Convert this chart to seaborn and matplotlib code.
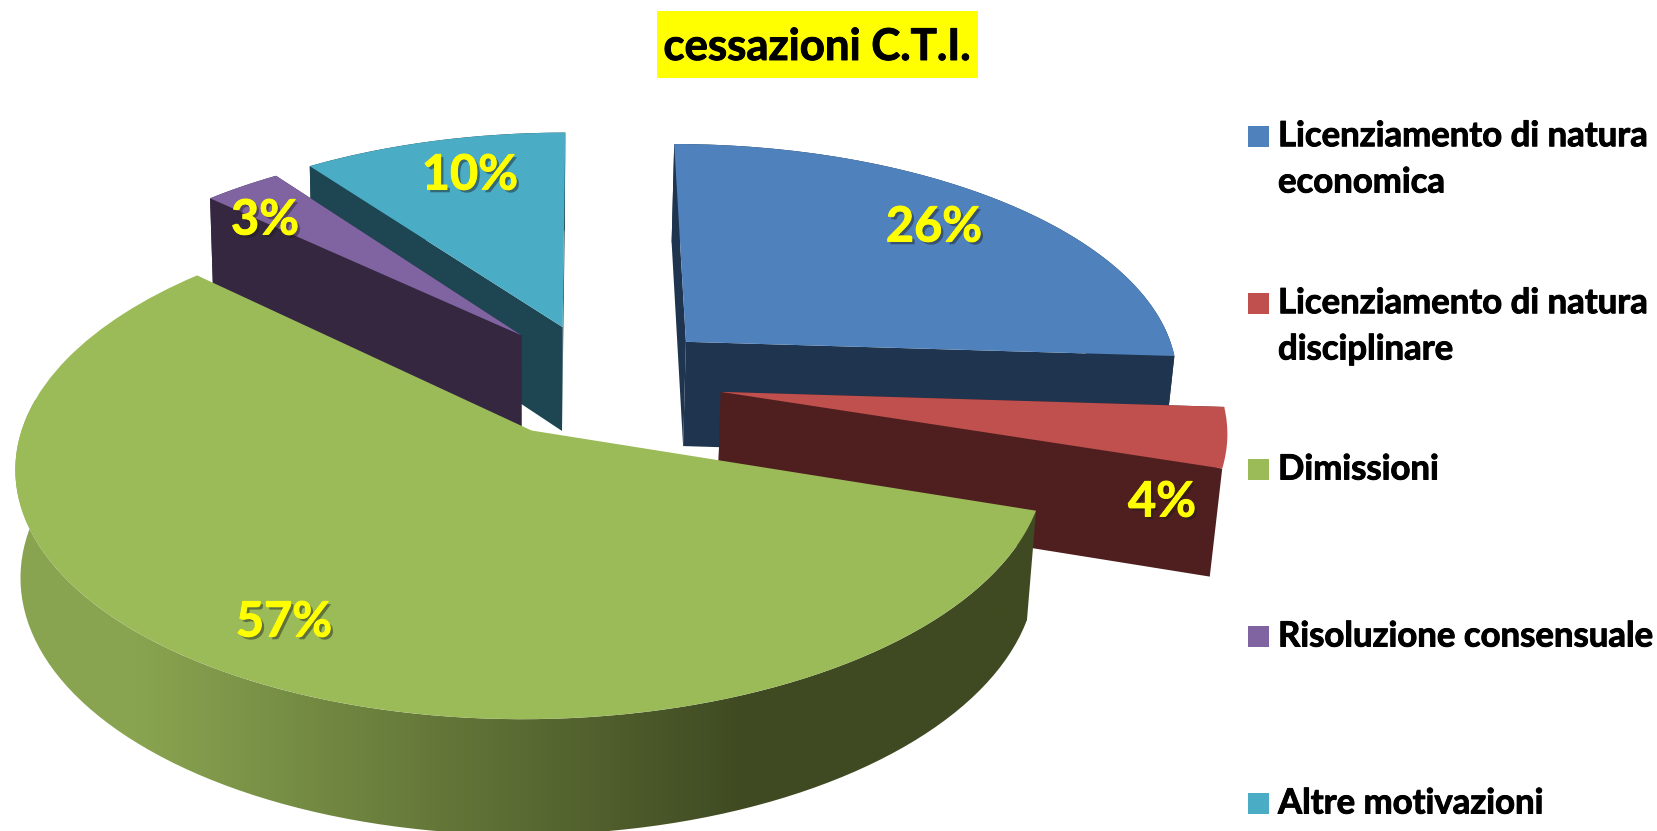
import numpy as np
import matplotlib
matplotlib.use("Agg")
import matplotlib.pyplot as plt
import matplotlib.patheffects as pe
from matplotlib.colors import LinearSegmentedColormap
from matplotlib.patches import Polygon, Rectangle
from matplotlib.transforms import Transform
import seaborn as sns

# ---- data ----
categories = ["Licenziamento di natura\neconomica", "Licenziamento di natura\ndisciplinare",
              "Dimissioni", "Risoluzione consensuale", "Altre motivazioni"]
shares = [26, 4, 57, 3, 10]
value_labels = ["26%", "4%", "57%", "3%", "10%"]
title_text = "cessazioni C.T.I."

# ---- styles ----
top_colors = ["#4F81BD", "#C0504D", "#9BBB59", "#8064A2", "#4BACC6"]
wall_colors = ["#1F344E", "#4F1F1F", "#3F4A22", "#35273F", "#1D4552"]
draw_order = [4, 3, 0, 1, 2]
slice_offsets = [(.318, .376), (.382, .159), (.005, 0), (-.022, .405), (.063, .442)]
slice_radius = [1, 1, 1, .98, 1]
label_xy = [(934, 227), (1162, 502), (284, 622), (265, 220), (470, 175)]

sns.set_theme(style="white")
plt.rcParams["font.family"] = ["Lato", "DejaVu Sans"]
palette = sns.color_palette(top_colors)

W, H = 1658, 831
fig = plt.figure(figsize=(W / 100, H / 100), dpi=100, facecolor="white")
ax = fig.add_axes([0, 0, 1, 1])


def project(uv):
    """Perspective view of the pie plane, in image pixels."""
    uv = np.asarray(uv, float)
    u, v = uv[..., 0], uv[..., 1]
    w = 1 + .14 * v
    return np.stack([529 + (510 * u + 8 * v) / w, 430.5 - 248.3 * v / w], axis=-1)


def extrude(xy):
    """Lower face of the pie, under a point of the upper face."""
    x, y = xy[..., 0], xy[..., 1]
    k = np.where(x < 530, .010, .018)
    return np.stack([x - k * (x - 530), y + 103 + .03 * (y - 300)], axis=-1)


class PieView(Transform):
    input_dims = output_dims = 2
    is_separable = False
    has_inverse = False

    def transform_non_affine(self, values):
        return project(values)


wedges, _ = ax.pie(shares, colors=palette, startangle=90, counterclock=False,
                   wedgeprops=dict(linewidth=0, edgecolor="none"))
view = PieView() + ax.transData

ax.set_aspect("auto")
ax.set_xlim(0, W)
ax.set_ylim(H, 0)
ax.axis("off")

green_wall = None
for rank, i in enumerate(draw_order):
    wedge = wedges[i]
    wedge.set_center(slice_offsets[i])
    wedge.set_radius(slice_radius[i])
    wedge.set_transform(view)
    wedge.set_zorder(2 * rank + 3)

    t = np.radians(np.linspace(wedge.theta1, wedge.theta2, 120))
    c = np.array(slice_offsets[i])
    arc = project(c + slice_radius[i] * np.c_[np.cos(t), np.sin(t)])
    apex = project(c)[None]
    if i != 1:
        outer = np.r_[arc, extrude(arc)[::-1]]
        ax.add_patch(Polygon(outer, closed=True, fc=wall_colors[i], ec="none", zorder=2 * rank + 2))
    if i == 2:
        green_wall = ax.patches[-1]
        continue
    for edge in (arc[0], arc[-1]):
        side = np.r_[apex, edge[None], extrude(edge[None]), extrude(apex)]
        ax.add_patch(Polygon(side, closed=True, fc=wall_colors[i], ec="none", zorder=2 * rank + 2))

# shaded outer wall of the largest slice
green_wall.set_facecolor("none")
shade = LinearSegmentedColormap.from_list(
    "wall", [(0, "#89A450"), (.13, "#89A450"), (.715, "#3F4A22"), (1, "#3F4A22")])
img = ax.imshow(np.linspace(0, 1, 512)[None, :], extent=(0, 1040, H, 400), cmap=shade, aspect="auto",
                interpolation="bilinear", zorder=green_wall.get_zorder())
img.set_clip_path(green_wall)
ax.set_xlim(0, W)
ax.set_ylim(H, 0)

# percentage labels
shadow = [pe.SimplePatchShadow(offset=(2, -2), shadow_rgbFace="k", alpha=.45),
          pe.withStroke(linewidth=.7, foreground="#FFFF00")]
for text, (x, y) in zip(value_labels, label_xy):
    ax.text(x, y, text, color="#FFFF00", fontsize=35, fontweight="bold", ha="center", va="center",
            zorder=30, path_effects=shadow)

# title
bold = [pe.withStroke(linewidth=.7, foreground="black")]
ax.add_patch(Rectangle((657, 11), 321, 67, fc="#FFFF00", ec="none", zorder=30))
ax.text(817, 47, title_text, fontsize=31.5, fontweight="bold", color="black", ha="center", va="center",
        zorder=31, path_effects=bold)

# legend
row_centers = [136.5, 303.5, 469.5, 636.5, 803.5]
for cat, color, yc in zip(categories, palette, row_centers):
    ax.add_patch(Rectangle((1248, yc - 10.5), 21, 21, fc=color, ec="none", zorder=30))
    drop = 46 if "\n" in cat else 0
    ax.text(1278, yc + 10 + drop, cat, fontsize=25, fontweight="bold", color="black", ha="left", va="baseline",
            linespacing=1.55, zorder=31, path_effects=bold)

fig.savefig("out.png", dpi=100)
